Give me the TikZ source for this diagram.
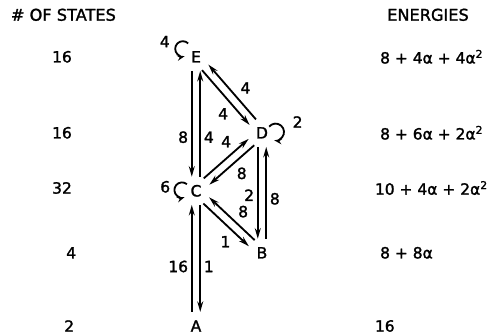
\documentclass[tikz,border=0pt]{standalone}
\usepackage{fontspec}
\setmainfont{DejaVu Sans}[BoldFont=DejaVu Sans, BoldFeatures={FakeBold=1.6}]
\usetikzlibrary{arrows.meta, calc}
\tikzset{
  state/.style={inner sep=1pt, font=\fontsize{11}{13}\selectfont\bfseries},
  count/.style={font=\fontsize{11}{13}\selectfont\bfseries},
  energy/.style={anchor=west, font=\fontsize{11}{13}\selectfont\bfseries},
  heading/.style={font=\fontsize{11.5}{13}\selectfont\bfseries},
  lbl/.style={inner sep=2pt, font=\fontsize{11}{13}\selectfont\bfseries},
  arrow/.style={line width=1.3pt, -{Stealth[length=7.5pt,width=4.2pt]},
    shorten <=10pt, shorten >=10pt},
  looparrow/.style={line width=1.3pt, -{Stealth[length=5.5pt,width=3.8pt]}},
}
\begin{document}
\begin{tikzpicture}
  \useasboundingbox (0,0) rectangle (12.35,8.4);

  % headings
  \node (hstates) [heading, anchor=west] at (0.15,8.03) {\# OF STATES};
  \node (henergy) [heading] at (10.7,8.03) {ENERGIES};

  % states
  \node (E) [state] at (4.90,6.98) {E};
  \node (D) [state] at (6.55,5.08) {D};
  \node (C) [state] at (4.90,3.63) {C};
  \node (B) [state] at (6.55,2.08) {B};
  \node (A) [state] at (4.90,0.25) {A};

  % number of states
  \node (nE) [count] at (1.55,6.98) {16};
  \node (nD) [count] at (1.55,5.08) {16};
  \node (nC) [count] at (1.55,3.70) {32};
  \node (nB) [count] at (1.78,2.08) {4};
  \node (nA) [count] at (1.73,0.25) {2};

  % energies
  \node (eE) [energy] at (9.38,6.98) {8 + 4α + 4α\textsuperscript{2}};
  \node (eD) [energy] at (9.38,5.08) {8 + 6α + 2α\textsuperscript{2}};
  \node (eC) [energy] at (9.25,3.70) {10 + 4α + 2α\textsuperscript{2}};
  \node (eB) [energy] at (9.38,2.08) {8 + 8α};
  \node (eA) [energy] at (9.25,0.25) {16};

  % transitions
  \draw [arrow] ($(E)!3pt!-90:(C)$) -- node[lbl, pos=0.6, left]{8}  ($(C)!3pt!90:(E)$);
  \draw [arrow] ($(C)!3pt!-90:(E)$) -- node[lbl, pos=0.4, right]{4} ($(E)!3pt!90:(C)$);
  \draw [arrow] ($(D)!3pt!-90:(E)$) -- node[lbl, pos=0.43, above right]{4} ($(E)!3pt!90:(D)$);
  \draw [arrow] ($(E)!3pt!-90:(D)$) -- node[lbl, pos=0.59, below left]{4} ($(D)!3pt!90:(E)$);
  \draw [arrow] ($(C)!3pt!90:(D)$) -- node[lbl, pos=0.63, above left]{4} ($(D)!3pt!-90:(C)$);
  \draw [arrow] ($(D)!3pt!90:(C)$) -- node[lbl, pos=0.48, below right]{8} ($(C)!3pt!-90:(D)$);
  \draw [arrow] ($(B)!3pt!-90:(C)$) -- node[lbl, pos=0.46, above right]{8} ($(C)!3pt!90:(B)$);
  \draw [arrow] ($(C)!3pt!-90:(B)$) -- node[lbl, pos=0.62, below left]{1} ($(B)!3pt!90:(C)$);
  \draw [arrow] ($(D)!3pt!-90:(B)$) -- node[lbl, pos=0.52, left]{2}  ($(B)!3pt!90:(D)$);
  \draw [arrow] ($(B)!3pt!-90:(D)$) -- node[lbl, pos=0.45, right]{8} ($(D)!3pt!90:(B)$);
  \draw [arrow] ($(A)!3pt!90:(C)$) -- node[lbl, pos=0.44, left]{16} ($(C)!3pt!-90:(A)$);
  \draw [arrow] ($(C)!3pt!90:(A)$) -- node[lbl, pos=0.56, right]{1} ($(A)!3pt!-90:(C)$);

  % self loops
  \coordinate (Eloop) at ($(E)+(-0.33,0.2)$);
  \coordinate (Dloop) at ($(D)+(0.34,0.02)$);
  \coordinate (Cloop) at ($(C)+(-0.35,0.02)$);
  \draw [looparrow] ([shift={(45:0.19)}]Eloop) arc[start angle=45, end angle=285, radius=0.19];
  \draw [looparrow] ([shift={(140:0.21)}]Dloop) arc[start angle=140, end angle=-100, radius=0.21];
  \draw [looparrow] ([shift={(50:0.19)}]Cloop) arc[start angle=50, end angle=290, radius=0.19];
  \node (lE) [lbl] at ($(Eloop)+(-0.45,0.18)$) {4};
  \node (lD) [lbl] at ($(Dloop)+(0.55,0.25)$) {2};
  \node (lC) [lbl] at ($(Cloop)+(-0.42,0.08)$) {6};
\end{tikzpicture}
\end{document}
